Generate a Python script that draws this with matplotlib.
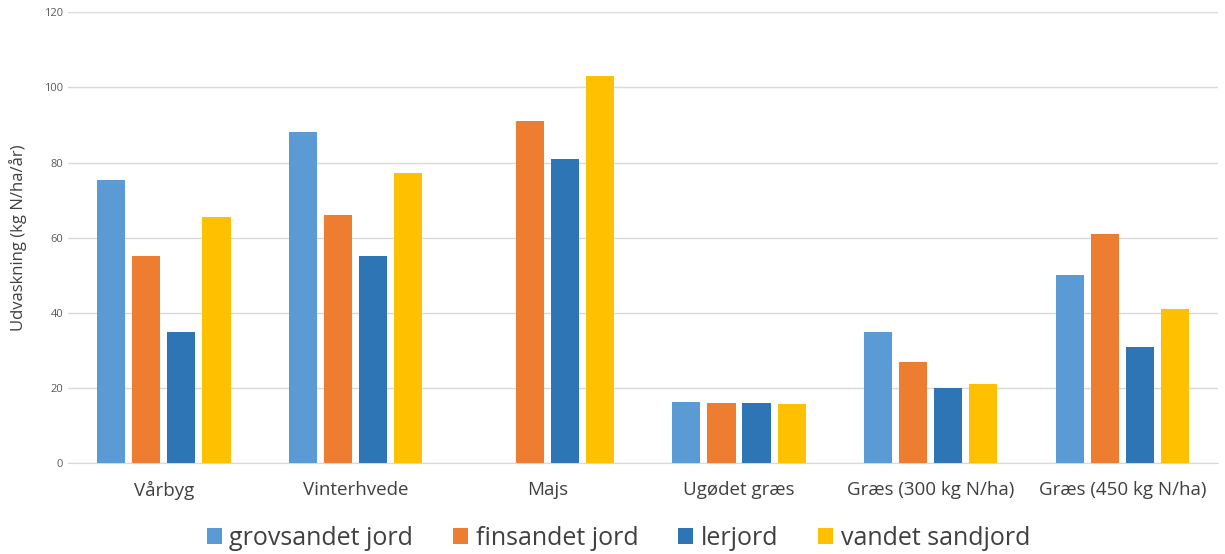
import matplotlib.pyplot as plt
import numpy as np

crops = ["Vårbyg", "Vinterhvede", "Majs", "Ugødet græs", "Græs (300 kg N/ha)", "Græs (450 kg N/ha)"]
grovsandet = [75.3, 88.2, 0, 16.3, 35.0, 50.0]
finsandet = [55.0, 66.0, 91.0, 16.0, 27.0, 61.0]
lerjord = [35.0, 55.0, 81.0, 16.0, 20.0, 31.0]
vandet = [65.5, 77.3, 103.0, 15.8, 21.0, 41.0]

series = [
    ("grovsandet jord", grovsandet, "#5B9BD5"),
    ("finsandet jord", finsandet, "#ED7D31"),
    ("lerjord", lerjord, "#2E75B6"),
    ("vandet sandjord", vandet, "#FFC000"),
]

plt.rcParams['font.family'] = ['Open Sans', 'DejaVu Sans']

fig = plt.figure(figsize=(12.25, 5.54), dpi=100)
ax = fig.add_axes([0.0555, 0.164, 0.939, 0.814])

x = np.arange(len(crops))
w = 0.147
step = 0.183
for i, (name, vals, col) in enumerate(series):
    ax.bar(x + (i - 1.5) * step, vals, width=w, color=col, label=name, zorder=3)

ax.set_xlim(-0.5, len(crops) - 0.5)
ax.set_ylim(0, 120)
ax.set_yticks(range(0, 121, 20))
ax.grid(axis='y', color='#D9D9D9', linewidth=1, zorder=0)
ax.set_xticks(x)
ax.set_xticklabels(crops, fontsize=13.5, color='#404040')
ax.tick_params(axis='y', labelsize=8, colors='#595959', length=0)
ax.tick_params(axis='x', length=0, pad=13)
for s in ['top', 'right', 'left']:
    ax.spines[s].set_visible(False)
ax.spines['bottom'].set_color('#D9D9D9')
ax.set_ylabel("Udvaskning (kg N/ha/år)", fontsize=12, color='#404040', labelpad=12)

fig.legend(loc='lower center', bbox_to_anchor=(0.505, -0.035), ncol=4, frameon=False,
           fontsize=18, handlelength=0.6, handleheight=0.6, handletextpad=0.3,
           columnspacing=1.6, labelcolor='#404040')

fig.savefig("out.png", dpi=100)
